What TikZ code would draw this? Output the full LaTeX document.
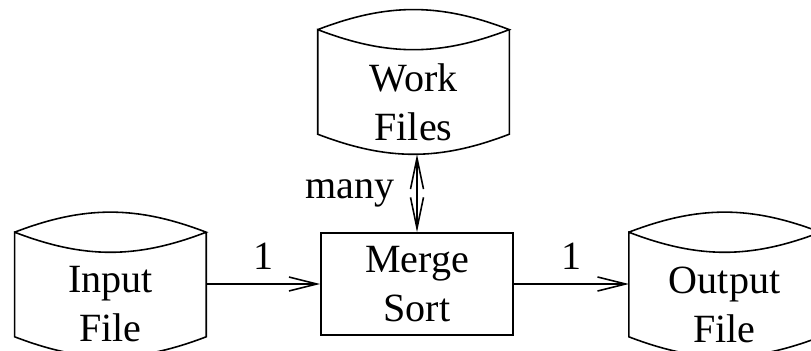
\documentclass[tikz,border=0pt]{standalone}
\usepackage{fontspec}
\setmainfont{Liberation Serif}
\usepackage{tikz}
\usetikzlibrary{positioning,arrows.meta}

\begin{document}
\begin{tikzpicture}[
    font=\fontsize{22.8}{27.9}\selectfont,
    line width=0.9pt,
    dbfile/.style  = {minimum width=3.8cm, minimum height=2.06cm,
                      inner sep=0pt, align=center},
    procbox/.style = {draw, minimum width=3.84cm, minimum height=2.04cm,
                      inner sep=0pt, align=center},
    arr/.style     = {-{Straight Barb[length=0.56cm,width=0.28cm]}},
    darr/.style    = {{Straight Barb[length=0.62cm,width=0.26cm]}-%
                      {Straight Barb[length=0.62cm,width=0.26cm]}},
    lbl/.style     = {inner sep=0.27cm},
]

%% ── Frame ─────────────────────────────────────────────────────────────────
\useasboundingbox[clip] (0,0) rectangle (16.22,-7.02);

%% ── Sort step ─────────────────────────────────────────────────────────────
\node[procbox] (merge) at (8.34,-5.68) {Merge\\Sort};

%% ── Files ─────────────────────────────────────────────────────────────────
\node[dbfile, left=2.28cm of merge, yshift=-0.41cm] (input)
  {Input\\File};
\node[dbfile, right=2.3cm of merge, yshift=-0.41cm] (output)
  {Output\\File};
\node[dbfile, above=1.56cm of merge, xshift=-0.07cm] (work)
  {Work\\Files};

\foreach \n in {input,output,work} {
  \draw ([yshift=0.4cm]\n.north west) to[bend left=21]
        ([yshift=0.4cm]\n.north east) to[bend left=21]
        ([yshift=0.4cm]\n.north west) -- ([yshift=0.4cm]\n.south west)
        to[bend right=21] ([yshift=0.4cm]\n.south east)
        -- ([yshift=0.4cm]\n.north east);
}

%% ── Data flow ─────────────────────────────────────────────────────────────
\draw[arr] (input.east |- merge.west) -- node[lbl, above] {1} (merge.west);
\draw[arr] (merge.east) -- node[lbl, above] {1} (output.west |- merge.east);
\draw[darr] (merge.north) -- node[lbl, left=0.17cm] {many}
  (merge.north |- work.south);

\end{tikzpicture}
\end{document}
